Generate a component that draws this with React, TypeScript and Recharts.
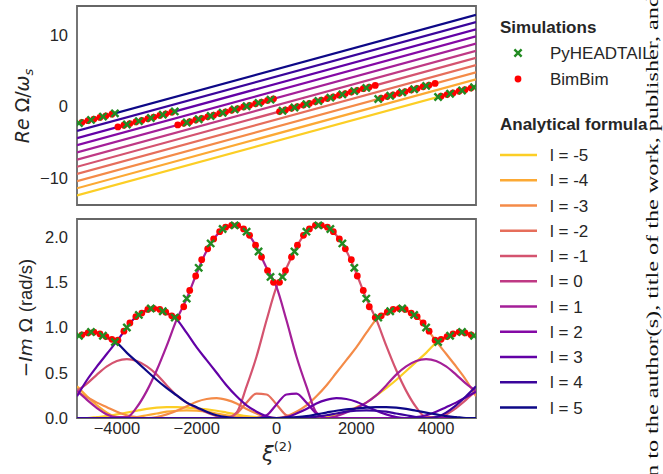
import React from 'react';
import { ComposedChart, Line, Scatter, XAxis, YAxis, ReferenceArea } from 'recharts';

// azimuthal modes, yellow (l=-5) to navy (l=5)
const modes = [-5, -4, -3, -2, -1, 0, 1, 2, 3, 4, 5];
const modeColors = ['#fcce25', '#fca934', '#f48b48', '#e66e5b', '#d4536f', '#bf3984', '#a41f98', '#8409a5', '#6201a6', '#3a059b', '#0d0887'];

// top panel: Re Omega / omega_s of each mode at xi = -5000 and xi = 5000
const reAtLeft = [-12.42, -11.42, -10.42, -9.42, -8.42, -7.42, -6.42, -5.42, -4.42, -3.42, -2.42];
const reAtRight = [2.76, 3.76, 4.76, 5.76, 6.76, 7.76, 8.76, 9.76, 10.76, 11.76, 12.76];

// bottom panel: -Im Omega of each mode on a xi grid
const xiGrid = [-5000, -4750, -4500, -4250, -4000, -3750, -3500, -3250, -3000, -2750, -2500, -2250, -2000, -1750, -1500, -1250, -1000, -750, -500, -250, 0, 250, 500, 750, 1000, 1250, 1500, 1750, 2000, 2250, 2500, 2750, 3000, 3250, 3500, 3750, 4000, 4250, 4500, 4750, 5000];
const imM5 = [0, 0, 0.01, 0.02, 0.04, 0.06, 0.08, 0.1, 0.115, 0.12, 0.12, 0.115, 0.105, 0.095, 0.08, 0.06, 0.04, 0.02, 0.01, 0.005, 0, 0, 0, 0, 0, 0.01, 0.03, 0.07, 0.12, 0.17, 0.25, 0.33, 0.42, 0.52, 0.62, 0.72, 0.83, 0.89, 0.94, 0.94, 0.9];
const imM4 = [0.35, 0.24, 0.14, 0.06, 0.01, 0, 0.01, 0.03, 0.05, 0.07, 0.08, 0.085, 0.08, 0.07, 0.05, 0.03, 0.015, 0.005, 0, 0, 0, 0, 0, 0, 0, 0, 0, 0, 0, 0, 0, 0, 0, 0, 0, 0, 0, 0, 0, 0, 0];
const imM3 = [0.29, 0.23, 0.17, 0.12, 0.07, 0.03, 0.01, 0, 0.01, 0.04, 0.08, 0.13, 0.18, 0.21, 0.22, 0.2, 0.16, 0.1, 0.05, 0.01, 0, 0.02, 0.07, 0.14, 0.24, 0.36, 0.5, 0.64, 0.78, 0.94, 1.09, 1.16, 1.21, 1.19, 1.13, 1.0, 0.85, 0.71, 0.57, 0.42, 0.24];
const imM2 = [0, 0, 0, 0, 0, 0, 0, 0, 0, 0, 0, 0, 0, 0, 0, 0.0, 0.05, 0.17, 0.27, 0.26, 0.15, 0.03, 0, 0, 0, 0, 0, 0, 0, 0, 0, 0, 0, 0, 0, 0, 0, 0, 0, 0, 0];
const imM1 = [0.3, 0.38, 0.48, 0.57, 0.63, 0.65, 0.63, 0.57, 0.48, 0.36, 0.25, 0.17, 0.11, 0.06, 0.02, 0, 0.06, 0.35, 0.68, 1.08, 1.45, 1.66, 1.89, 2.06, 2.13, 2.11, 2.02, 1.85, 1.6, 1.32, 1.09, 0.8, 0.53, 0.3, 0.12, 0.01, 0.01, 0.04, 0.11, 0.2, 0.3];
const im0 = [0, 0, 0, 0, 0, 0, 0, 0, 0, 0, 0, 0, 0, 0, 0, 0, 0, 0, 0, 0, 0, 0, 0, 0, 0, 0, 0, 0, 0, 0, 0, 0, 0, 0, 0, 0, 0, 0, 0, 0, 0];
const imP1 = [0.3, 0.2, 0.11, 0.04, 0.01, 0.01, 0.12, 0.3, 0.53, 0.8, 1.09, 1.32, 1.6, 1.85, 2.02, 2.11, 2.13, 2.06, 1.89, 1.66, 1.45, 1.08, 0.68, 0.35, 0.06, 0, 0.02, 0.06, 0.11, 0.17, 0.25, 0.36, 0.48, 0.57, 0.63, 0.65, 0.63, 0.57, 0.48, 0.38, 0.3];
const imP2 = [0, 0, 0, 0, 0, 0, 0, 0, 0, 0, 0, 0, 0, 0, 0, 0, 0, 0, 0, 0.03, 0.15, 0.26, 0.27, 0.17, 0.05, 0, 0, 0, 0, 0, 0, 0, 0, 0, 0, 0, 0, 0, 0, 0, 0];
const imP3 = [0.24, 0.42, 0.57, 0.71, 0.85, 1.0, 1.13, 1.19, 1.21, 1.16, 1.09, 0.94, 0.78, 0.64, 0.5, 0.36, 0.24, 0.14, 0.07, 0.02, 0, 0.01, 0.05, 0.1, 0.16, 0.2, 0.22, 0.21, 0.18, 0.13, 0.08, 0.04, 0.01, 0, 0.01, 0.03, 0.07, 0.12, 0.17, 0.23, 0.29];
const imP4 = [0, 0, 0, 0, 0, 0, 0, 0, 0, 0, 0, 0, 0, 0, 0, 0, 0, 0, 0, 0, 0, 0, 0, 0.005, 0.015, 0.03, 0.05, 0.07, 0.08, 0.085, 0.08, 0.07, 0.05, 0.03, 0.01, 0, 0.01, 0.06, 0.14, 0.24, 0.35];
const imP5 = [0.9, 0.94, 0.94, 0.89, 0.83, 0.72, 0.62, 0.52, 0.42, 0.33, 0.25, 0.17, 0.12, 0.07, 0.03, 0.01, 0, 0, 0, 0, 0, 0.005, 0.01, 0.02, 0.04, 0.06, 0.08, 0.095, 0.105, 0.115, 0.12, 0.12, 0.115, 0.1, 0.08, 0.06, 0.04, 0.02, 0.01, 0, 0];
const imCurves = [imM5, imM4, imM3, imM2, imM1, im0, imP1, imP2, imP3, imP4, imP5];

// simulations: PyHEADTAIL
const phtXi = [-4950, -4650, -4350, -4050, -3750, -3450, -3150, -2850, -2550, -2250, -1950, -1650, -1350, -1050, -750, -450, -150, 150, 450, 750, 1050, 1350, 1650, 1950, 2250, 2550, 2850, 3150, 3450, 3750, 4050, 4350, 4650, 4950];
const phtRe = [-2.33, -1.88, -1.42, -0.97, -2.52, -2.06, -1.61, -1.15, -0.7, -2.24, -1.79, -1.33, -0.88, -0.42, 0.03, 0.49, 0.94, -0.6, -0.15, 0.31, 0.76, 1.22, 1.67, 2.13, 2.58, 1.04, 1.49, 1.95, 2.4, 2.86, 1.31, 1.77, 2.22, 2.67];
const phtIm = [0.91, 0.95, 0.91, 0.84, 1.0, 1.14, 1.21, 1.18, 1.11, 1.32, 1.66, 1.93, 2.09, 2.13, 2.06, 1.84, 1.56, 1.56, 1.84, 2.06, 2.13, 2.09, 1.93, 1.66, 1.32, 1.11, 1.18, 1.21, 1.14, 1.0, 0.84, 0.91, 0.95, 0.91];

// simulations: BimBim
const bbXi = [-4875, -4725, -4575, -4425, -4275, -4125, -3975, -3825, -3675, -3525, -3375, -3225, -3075, -2925, -2775, -2625, -2475, -2325, -2175, -2025, -1875, -1725, -1575, -1425, -1275, -1125, -975, -825, -675, -525, -375, -225, -75, 75, 225, 375, 525, 675, 825, 975, 1125, 1275, 1425, 1575, 1725, 1875, 2025, 2175, 2325, 2475, 2625, 2775, 2925, 3075, 3225, 3375, 3525, 3675, 3825, 3975, 4125, 4275, 4425, 4575, 4725, 4875];
const bbRe = [-2.22, -1.99, -1.77, -1.54, -1.31, -1.08, -2.86, -2.63, -2.4, -2.17, -1.95, -1.72, -1.49, -1.26, -1.04, -0.81, -2.58, -2.35, -2.13, -1.9, -1.67, -1.45, -1.22, -0.99, -0.76, -0.54, -0.31, -0.08, 0.15, 0.37, 0.6, 0.83, 1.06, -0.72, -0.49, -0.26, -0.03, 0.19, 0.42, 0.65, 0.88, 1.1, 1.33, 1.56, 1.79, 2.01, 2.24, 2.47, 2.7, 2.92, 1.15, 1.38, 1.6, 1.83, 2.06, 2.29, 2.51, 2.74, 2.97, 3.2, 1.42, 1.65, 1.88, 2.11, 2.33, 2.56];
const bbIm = [0.92, 0.94, 0.95, 0.93, 0.9, 0.87, 0.86, 0.96, 1.05, 1.12, 1.16, 1.2, 1.21, 1.2, 1.17, 1.13, 1.11, 1.23, 1.41, 1.57, 1.75, 1.87, 1.98, 2.06, 2.11, 2.13, 2.13, 2.09, 2.02, 1.91, 1.78, 1.63, 1.5, 1.5, 1.63, 1.78, 1.91, 2.02, 2.09, 2.13, 2.13, 2.11, 2.06, 1.98, 1.87, 1.75, 1.57, 1.41, 1.23, 1.11, 1.13, 1.17, 1.2, 1.21, 1.2, 1.16, 1.12, 1.05, 0.96, 0.86, 0.87, 0.9, 0.93, 0.95, 0.94, 0.92];

const xTicks = [-4000, -2000, 0, 2000, 4000];
const reTicks = [-10, 0, 10];
const imTicks = [0, 0.5, 1, 1.5, 2];

const ink = '#262626';
const spine = '#666666';
const sans = '"Liberation Sans", Arial, sans-serif';
const mathFont = '"DejaVu Sans", sans-serif';

const reLines = modes.map((l, i) => [
  { xi: -5000, v: reAtLeft[i] },
  { xi: 5000, v: reAtRight[i] },
]);
const imLines = imCurves.map((curve) => xiGrid.map((xi, j) => ({ xi, v: curve[j] })));
const phtTop = phtXi.map((xi, i) => ({ xi, v: phtRe[i] }));
const phtBottom = phtXi.map((xi, i) => ({ xi, v: phtIm[i] }));
const bbTop = bbXi.map((xi, i) => ({ xi, v: bbRe[i] }));
const bbBottom = bbXi.map((xi, i) => ({ xi, v: bbIm[i] }));

const fmtMinus = (v: number) => (v < 0 ? '\u2212' + Math.abs(v) : String(v));

const Cross = (props: any) => {
  const { cx, cy } = props;
  const d = 3.6;
  return (
    <path
      d={`M${cx - d},${cy - d}L${cx + d},${cy + d}M${cx - d},${cy + d}L${cx + d},${cy - d}`}
      stroke="#228b22"
      strokeWidth={2.4}
      fill="none"
    />
  );
};
const Dot = (props: any) => <circle cx={props.cx} cy={props.cy} r={3.4} fill="#ff0000" />;

const tickStyle = { fill: ink, fontSize: 16.5, fontFamily: sans };

const ReLabel = () => (
  <text transform="translate(29,106) rotate(-90)" textAnchor="middle" fill={ink} fontSize={19} fontFamily={mathFont}>
    <tspan fontStyle="italic">Re</tspan>
    <tspan> Ω/</tspan>
    <tspan fontStyle="italic">ω</tspan>
    <tspan fontStyle="italic" fontSize={13} dy={4}>s</tspan>
  </text>
);

const ImLabel = () => (
  <text transform="translate(32,105) rotate(-90)" textAnchor="middle" fill={ink} fontSize={18.5} fontFamily={mathFont}>
    <tspan>−</tspan>
    <tspan fontStyle="italic">Im</tspan>
    <tspan> Ω </tspan>
    <tspan fontFamily={sans}>(rad/s)</tspan>
  </text>
);

const XiLabel = () => (
  <text x={262} y={248} fill={ink} fontFamily={mathFont}>
    <tspan fontStyle="italic" fontSize={21}>ξ</tspan>
    <tspan fontSize={13} dy={-10}>(2)</tspan>
  </text>
);

const legendY = [155, 180.3, 205.5, 230.8, 256, 281.3, 306.5, 331.8, 357, 382.3, 407.5];

const Legend = () => (
  <svg width={663} height={474} style={{ position: 'absolute', left: 0, top: 0, pointerEvents: 'none' }}>
    <text x={500} y={33} fill={ink} fontSize={17} fontWeight="bold" fontFamily={sans}>Simulations</text>
    <Cross cx={518} cy={53} />
    <text x={550} y={59} fill={ink} fontSize={17} fontFamily={sans}>PyHEADTAIL</text>
    <Dot cx={518} cy={79} />
    <text x={550} y={85} fill={ink} fontSize={17} fontFamily={sans}>BimBim</text>
    <text x={500} y={130} fill={ink} fontSize={17} fontWeight="bold" fontFamily={sans}>Analytical formula</text>
    {modes.map((l, i) => (
      <g key={l}>
        <line x1={500} x2={537} y1={legendY[i]} y2={legendY[i]} stroke={modeColors[i]} strokeWidth={2.4} />
        <text x={550} y={legendY[i] + 6} fill={ink} fontSize={17} fontFamily={sans}>{`l = ${l}`}</text>
      </g>
    ))}
    <text
      transform="translate(658,477) rotate(-90)"
      fill="#111"
      fontSize={17.5}
      fontFamily='"Liberation Serif", "DejaVu Serif", serif'
      textLength={482}
      lengthAdjust="spacingAndGlyphs"
    >
      n to the author(s), title of the work, publisher, and
    </text>
  </svg>
);

export default function App() {
  return (
    <div style={{ position: 'fixed', left: 0, top: 0, width: 663, height: 474, background: '#fff' }}>
      <div style={{ position: 'absolute', left: 0, top: 0 }}>
        <ComposedChart width={480} height={210} margin={{ top: 6, right: 4, bottom: 5, left: 17 }}>
          <XAxis dataKey="xi" type="number" domain={[-5000, 5000]} hide allowDataOverflow />
          <YAxis
            dataKey="v"
            type="number"
            domain={[-13.75, 14]}
            ticks={reTicks}
            width={60}
            axisLine={false}
            tickLine={false}
            tickSize={0}
            tickMargin={9}
            tick={tickStyle}
            tickFormatter={fmtMinus}
            allowDataOverflow
            label={<ReLabel />}
          />
          {modes.map((l, i) => (
            <Line
              key={l}
              data={reLines[i]}
              dataKey="v"
              stroke={modeColors[i]}
              strokeWidth={2.2}
              dot={false}
              isAnimationActive={false}
            />
          ))}
          <Scatter data={bbTop} dataKey="v" shape={<Dot />} isAnimationActive={false} />
          <Scatter data={phtTop} dataKey="v" shape={<Cross />} isAnimationActive={false} />
          <ReferenceArea x1={-5000} x2={5000} y1={-13.75} y2={14} fill="none" stroke={spine} strokeWidth={1.8} />
        </ComposedChart>
      </div>
      <div style={{ position: 'absolute', left: 0, top: 213 }}>
        <ComposedChart width={480} height={261} margin={{ top: 6, right: 4, bottom: 0, left: 17 }}>
          <XAxis
            dataKey="xi"
            type="number"
            domain={[-5000, 5000]}
            ticks={xTicks}
            height={56}
            axisLine={false}
            tickLine={false}
            tickSize={0}
            tickMargin={4}
            tick={tickStyle}
            tickFormatter={fmtMinus}
            allowDataOverflow
            label={<XiLabel />}
          />
          <YAxis
            dataKey="v"
            type="number"
            domain={[0, 2.2]}
            ticks={imTicks}
            width={60}
            axisLine={false}
            tickLine={false}
            tickSize={0}
            tickMargin={9}
            tick={tickStyle}
            tickFormatter={(v: number) => v.toFixed(1)}
            allowDataOverflow
            label={<ImLabel />}
          />
          {modes.map((l, i) => (
            <Line
              key={l}
              data={imLines[i]}
              dataKey="v"
              type="monotone"
              stroke={modeColors[i]}
              strokeWidth={2.2}
              dot={false}
              isAnimationActive={false}
            />
          ))}
          <Scatter data={bbBottom} dataKey="v" shape={<Dot />} isAnimationActive={false} />
          <Scatter data={phtBottom} dataKey="v" shape={<Cross />} isAnimationActive={false} />
          <ReferenceArea x1={-5000} x2={5000} y1={0} y2={2.2} fill="none" stroke={spine} strokeWidth={1.8} />
        </ComposedChart>
      </div>
      <Legend />
    </div>
  );
}
